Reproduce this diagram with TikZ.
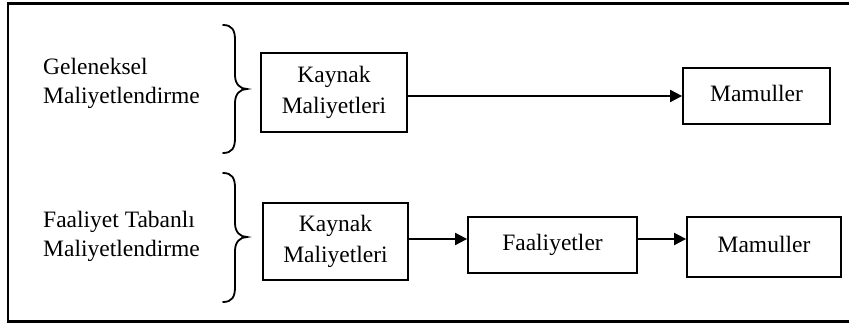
\documentclass[tikz,border=0pt]{standalone}
\usepackage{fontspec}
\setmainfont{Liberation Serif}
\usetikzlibrary{arrows.meta,calc}
\begin{document}
\begin{tikzpicture}[x=1pt,y=-1pt,
  box/.style={draw,line width=1.8pt,rectangle,inner sep=0pt,align=center,font=\fontsize{23.5}{31}\selectfont},
  lbl/.style={align=left,anchor=west,inner sep=0pt,font=\fontsize{23.5}{29}\selectfont},
  arr/.style={line width=2pt,-{Triangle[length=12pt,width=12pt]}},
  brc/.style={line width=1.8pt,line cap=round}]
\useasboundingbox (0,0) rectangle (849,323);
\draw[line width=2.5pt] (8,3.5) rectangle (870,321.5);
% left labels
\node[lbl] (t1) at (43,83) {Geleneksel\\Maliyetlendirme};
\node[lbl] (t2) at (43,236) {Faaliyet Tabanlı\\Maliyetlendirme};
% braces
\draw[brc] (223,25) .. controls (232,25) and (235,30) .. (235,40) -- (235,75) .. controls (235,84) and (240,89) .. (247,89) .. controls (240,89) and (235,94) .. (235,103) -- (235,138) .. controls (235,148) and (232,153) .. (223,153);
\draw[brc] (223,173) .. controls (232,173) and (235,178) .. (235,188) -- (235,223) .. controls (235,232) and (240,237) .. (247,237) .. controls (240,237) and (235,242) .. (235,251) -- (235,287) .. controls (235,297) and (232,302) .. (223,302);
% boxes
\node[box,minimum width=146pt,minimum height=79pt] (K1) at (334,92.5) {Kaynak\\Maliyetleri};
\node[box,minimum width=147pt,minimum height=56pt] (M1) at (756.5,96) {\raisebox{5pt}{Mamuller}};
\node[box,minimum width=145pt,minimum height=77pt] (K2) at (335.5,241.5) {Kaynak\\Maliyetleri};
\node[box,minimum width=169pt,minimum height=56pt] (F) at (552.5,245) {\raisebox{5pt}{Faaliyetler}};
\node[box,minimum width=154pt,minimum height=60pt] (M2) at (764,247) {\raisebox{6pt}{Mamuller}};
% arrows
\draw[arr] (K1.east |- M1.west) -- (M1.west);
\draw[arr] ([yshift=2.5pt]K2.east) -- ([yshift=2.5pt]K2.east -| F.west);
\draw[arr] ([yshift=6pt]F.east) -- ([yshift=6pt]F.east -| M2.west);
\end{tikzpicture}
\end{document}
